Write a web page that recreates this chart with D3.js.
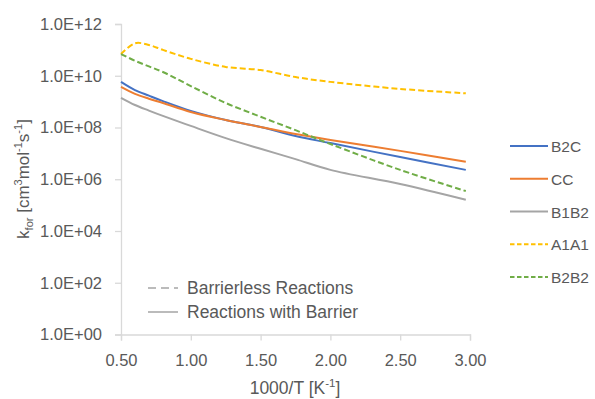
<!DOCTYPE html>
<html>
<head>
<meta charset="utf-8">
<script src="https://cdn.jsdelivr.net/npm/d3@7"></script>
<style>
  body { margin: 0; background: #fff; }
  svg text { font-family: "Liberation Sans", Arial, sans-serif; fill: #595959; }
</style>
</head>
<body>
<svg id="chart" width="595" height="399"></svg>
<script>
// 1000/T values shared by every series
const invT = [0.5, 0.6, 0.7, 0.8, 1.0, 1.25, 1.5, 1.75, 2.0, 2.5, 2.97];

const b2c  = [5.8e9, 2.8e9, 1.7e9, 1.05e9, 4.4e8, 1.95e8, 1.05e8, 4.7e7, 2.5e7, 7.2e6, 2.3e6];
const cc   = [3.7e9, 2.0e9, 1.3e9, 8.9e8, 4.0e8, 1.95e8, 1.05e8, 5.6e7, 3.3e7, 1.25e7, 4.7e6];
const b1b2 = [1.4e9, 7.4e8, 4.5e8, 2.8e8, 1.15e8, 3.9e7, 1.5e7, 6.0e6, 2.3e6, 6.5e5, 1.6e5];
const a1a1 = [6.9e10, 1.8e11, 1.55e11, 1.0e11, 4.5e10, 2.2e10, 1.66e10, 8.9e9, 5.8e9, 3.1e9, 2.1e9];
const b2b2 = [6.9e10, 3.8e10, 2.3e10, 1.4e10, 4.0e9, 8.9e8, 2.6e8, 7.9e7, 2.3e7, 2.3e6, 3.5e5];

const xTicks = [0.5, 1.0, 1.5, 2.0, 2.5, 3.0];
const yTicks = [1e0, 1e2, 1e4, 1e6, 1e8, 1e10, 1e12];

const series = [
  { name: 'B2C',  values: b2c,  color: '#4472C4', dashed: false },
  { name: 'CC',   values: cc,   color: '#ED7D31', dashed: false },
  { name: 'B1B2', values: b1b2, color: '#A5A5A5', dashed: false },
  { name: 'A1A1', values: a1a1, color: '#FFC000', dashed: true },
  { name: 'B2B2', values: b2b2, color: '#70AD47', dashed: true }
];

const svg = d3.select('#chart');
const axisColor = '#d9d9d9';
const fontFamily = '"Liberation Sans", Arial, sans-serif';

const x = d3.scaleLinear().domain([0.5, 3.0]).range([121, 470]);
const y = d3.scaleLog().domain([1, 1e12]).range([334.5, 24]);

function sciLabel(v) {
  const e = Math.round(Math.log10(v));
  return '1.0E+' + String(e).padStart(2, '0');
}

// y axis
const yAxis = svg.append('g')
  .attr('transform', `translate(${x.range()[0]},0)`)
  .call(d3.axisLeft(y).tickValues(yTicks).tickFormat(sciLabel).tickSize(6).tickPadding(13));
yAxis.select('.domain').attr('stroke', axisColor).attr('stroke-width', 1.3);
yAxis.selectAll('.tick line').attr('stroke', axisColor).attr('stroke-width', 1.3);
yAxis.selectAll('.tick text').attr('font-size', 16.5).attr('fill', '#595959')
  .style('font-family', fontFamily);

// x axis
const xAxis = svg.append('g')
  .attr('transform', `translate(0,${y.range()[0]})`)
  .call(d3.axisBottom(x).tickValues(xTicks).tickFormat(d3.format('.2f')).tickSize(6).tickPadding(14));
xAxis.select('.domain').attr('stroke', axisColor).attr('stroke-width', 1.3);
xAxis.selectAll('.tick line').attr('stroke', axisColor).attr('stroke-width', 1.3);
xAxis.selectAll('.tick text').attr('font-size', 16.5).attr('fill', '#595959')
  .style('font-family', fontFamily);

// lines
const line = d3.line()
  .x((d, i) => x(invT[i]))
  .y(d => y(d))
  .curve(d3.curveCatmullRom.alpha(0.5));

svg.append('g').selectAll('path')
  .data(series)
  .join('path')
  .attr('fill', 'none')
  .attr('stroke', d => d.color)
  .attr('stroke-width', 2)
  .attr('stroke-dasharray', d => d.dashed ? '6,3' : null)
  .attr('d', d => line(d.values));

// series legend
const legend = svg.append('g');
const legY = d3.scalePoint().domain(series.map(s => s.name)).range([146, 277]);
series.forEach(s => {
  const ly = legY(s.name);
  legend.append('line')
    .attr('x1', 510).attr('x2', 548).attr('y1', ly).attr('y2', ly)
    .attr('stroke', s.color).attr('stroke-width', 2)
    .attr('stroke-dasharray', s.dashed ? '4.5,2.5' : null);
  legend.append('text')
    .attr('x', 551).attr('y', ly + 6)
    .attr('font-size', 15.5)
    .text(s.name);
});

// line-style legend inside the plot
const styleLegend = [
  { label: 'Barrierless Reactions', dashed: true, y: 288 },
  { label: 'Reactions with Barrier', dashed: false, y: 312 }
];
styleLegend.forEach(s => {
  svg.append('line')
    .attr('x1', 148).attr('x2', 178).attr('y1', s.y).attr('y2', s.y)
    .attr('stroke', '#A5A5A5').attr('stroke-width', 1.5)
    .attr('stroke-dasharray', s.dashed ? '8,5' : null);
  svg.append('text')
    .attr('x', 187).attr('y', s.y + 6)
    .attr('font-size', 17.5)
    .text(s.label);
});

// axis titles
const xt = svg.append('text')
  .attr('x', 295).attr('y', 394)
  .attr('text-anchor', 'middle')
  .attr('font-size', 17.5);
xt.append('tspan').text('1000/T [K');
xt.append('tspan').attr('dy', -7).attr('font-size', 11.5).text('-1');
xt.append('tspan').attr('dy', 7).text(']');

const yt = svg.append('text')
  .attr('transform', 'translate(29,179) rotate(-90)')
  .attr('text-anchor', 'middle')
  .attr('font-size', 17);
yt.append('tspan').text('k');
yt.append('tspan').attr('dy', 4).attr('font-size', 11).text('for');
yt.append('tspan').attr('dy', -4).text(' [cm');
yt.append('tspan').attr('dy', -7).attr('font-size', 11).text('3');
yt.append('tspan').attr('dy', 7).text('mol');
yt.append('tspan').attr('dy', -7).attr('font-size', 11).text('-1');
yt.append('tspan').attr('dy', 7).text('s');
yt.append('tspan').attr('dy', -7).attr('font-size', 11).text('-1');
yt.append('tspan').attr('dy', 7).text(']');
</script>
</body>
</html>
